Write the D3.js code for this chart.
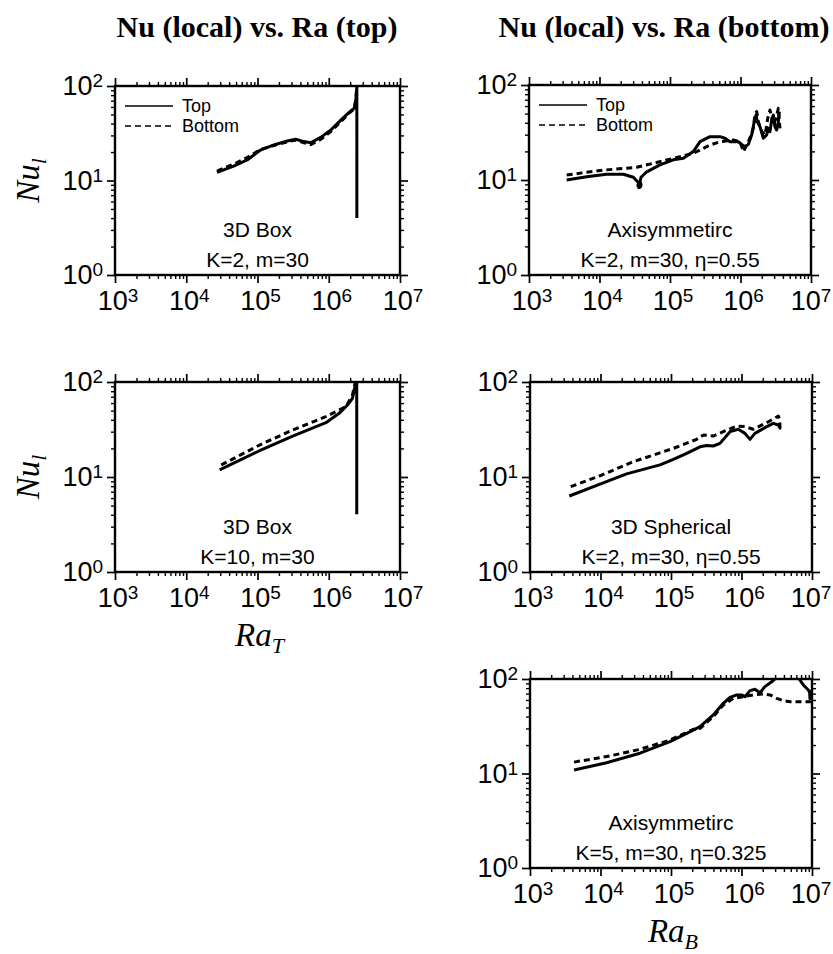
<!DOCTYPE html>
<html><head><meta charset="utf-8">
<script src="https://cdn.jsdelivr.net/npm/d3@7"></script>
<style>body{margin:0;background:#fff}</style>
</head><body>
<svg id="c" width="833" height="954" xmlns="http://www.w3.org/2000/svg"></svg>
<script>
// ---------- tick / text data ----------
const raDecades = [1e3, 1e4, 1e5, 1e6, 1e7];
const nuDecades = [1, 10, 100];
const titles = ["Nu (local) vs. Ra (top)", "Nu (local) vs. Ra (bottom)"];
const panelNames = ["3D Box", "Axisymmetirc", "3D Box", "3D Spherical", "Axisymmetirc"];
const panelParams = ["K=2, m=30", "K=2, m=30, \u03b7=0.55", "K=10, m=30", "K=2, m=30, \u03b7=0.55", "K=5, m=30, \u03b7=0.325"];
const legendLabels = ["Top", "Bottom"];

// ---------- series data (Ra, Nu_l) ----------
// Panel 1: 3D Box K=2
const p1TopRa = [2.70e4, 4.63e4, 7.16e4, 1.10e5, 1.70e5, 2.62e5, 3.43e5, 4.49e5, 5.57e5, 7.71e5, 1.07e6, 1.48e6, 1.93e6, 2.28e6, 2.40e6, 2.48e6, 2.48e6];
const p1TopNu = [12.2, 14.2, 16.5, 21.0, 23.8, 26.2, 27.3, 25.8, 25.1, 28.6, 34.2, 43.6, 52.6, 58.1, 71.1, 100, 4.0];
const p1BotRa = [2.70e4, 4.63e4, 7.16e4, 1.10e5, 1.70e5, 2.62e5, 3.43e5, 4.49e5, 5.57e5, 7.71e5, 1.07e6, 1.48e6, 1.93e6, 2.28e6, 2.40e6, 2.48e6];
const p1BotNu = [12.6, 14.9, 17.5, 21.3, 23.5, 25.6, 26.8, 25.0, 24.0, 27.2, 33.0, 42.0, 51.5, 57.5, 72.0, 100];

// Panel 2: Axisymmetric K=2, eta=0.55
const p2TopRa = [3.42e3, 6.58e3, 1.26e4, 2.18e4, 3.02e4, 3.55e4, 3.51e4, 3.63e4, 3.80e4, 3.89e4, 3.76e4, 3.89e4, 4.67e4, 7.21e4, 1.11e5, 1.55e5, 2.14e5, 2.67e5, 3.69e5, 5.12e5, 6.03e5, 7.10e5, 9.31e5, 1.04e6, 1.16e6, 1.29e6, 1.44e6, 1.55e6, 1.66e6, 1.73e6, 1.89e6, 2.11e6, 2.35e6, 2.48e6, 2.62e6, 2.77e6, 2.92e6, 3.08e6, 3.26e6, 3.44e6, 3.55e6];
const p2TopNu = [10.0, 10.8, 11.5, 11.5, 10.7, 9.4, 8.7, 8.3, 8.4, 8.9, 9.7, 10.7, 12.2, 14.4, 16.3, 16.9, 19.9, 25.3, 28.6, 28.6, 27.5, 25.3, 25.3, 23.7, 22.4, 23.7, 29.8, 39.5, 48.3, 41.1, 36.4, 27.5, 29.8, 35.0, 32.3, 42.9, 48.3, 36.4, 33.6, 41.1, 52.4];
const p2BotRa = [3.42e3, 1.13e4, 3.37e4, 5.79e4, 1.11e5, 2.14e5, 2.67e5, 3.69e5, 5.12e5, 7.91e5, 9.84e5, 1.10e6, 1.22e6, 1.36e6, 1.52e6, 1.61e6, 1.70e6, 1.79e6, 2.00e6, 2.23e6, 2.48e6, 2.62e6, 2.92e6, 3.19e6, 3.44e6, 3.63e6];
const p2BotNu = [11.3, 12.7, 13.6, 15.0, 16.9, 19.1, 20.7, 23.3, 25.3, 26.4, 25.3, 19.9, 23.3, 27.5, 35.0, 50.4, 52.4, 41.1, 32.3, 29.8, 48.3, 54.6, 37.9, 44.6, 56.8, 35.0];

// Panel 3: 3D Box K=10
const p3TopRa = [2.94e4, 1.07e5, 3.12e5, 9.12e5, 1.40e6, 1.83e6, 2.15e6, 2.39e6, 2.47e6, 2.47e6];
const p3TopNu = [11.9, 18.9, 27.0, 37.3, 46.8, 57.3, 67.3, 96.8, 100, 4.05];
const p3BotRa = [3.10e4, 1.07e5, 3.12e5, 9.12e5, 1.74e6, 2.15e6, 2.34e6, 2.45e6];
const p3BotNu = [13.4, 21.7, 31.3, 43.2, 55.0, 72.9, 96.8, 100];

// Panel 4: 3D Spherical K=2, eta=0.55
const p4TopRa = [3.61e3, 9.84e3, 2.35e4, 6.98e4, 1.08e5, 1.67e5, 2.58e5, 3.21e5, 3.98e5, 4.95e5, 6.87e5, 9.02e5, 1.12e6, 1.32e6, 1.55e6, 2.28e6, 2.83e6, 3.33e6, 3.52e6, 3.50e6];
const p4TopNu = [6.31, 8.43, 10.8, 13.4, 15.3, 17.7, 20.8, 21.5, 21.2, 22.6, 30.0, 31.8, 28.8, 24.9, 28.8, 33.9, 36.7, 35.3, 32.7, 37.5];
const p4BotRa = [3.78e3, 9.84e3, 2.92e4, 1.08e5, 2.31e5, 2.88e5, 3.98e5, 5.52e5, 8.55e5, 1.12e6, 1.47e6, 2.28e6, 3.33e6, 3.52e6];
const p4BotNu = [7.91, 10.3, 14.5, 20.0, 24.9, 27.7, 27.0, 30.0, 34.4, 33.9, 31.8, 37.3, 43.9, 39.8];

// Panel 5: Axisymmetric K=5, eta=0.325
const p5TopRa = [4.21e3, 1.22e4, 3.63e4, 9.68e4, 2.07e5, 2.58e5, 3.98e5, 5.52e5, 6.87e5, 8.55e5, 1.00e6, 1.12e6, 1.32e6, 1.55e6, 1.83e6, 2.15e6, 2.68e6, 3.16e6, 4.47e6, 6.40e6, 7.53e6, 8.87e6, 9.57e6, 9.35e6, 9.28e6, 9.70e6, 9.85e6];
const p5TopNu = [10.9, 13.0, 16.4, 21.7, 28.8, 31.3, 41.6, 55.3, 64.0, 67.8, 67.8, 65.0, 75.3, 77.8, 71.6, 83.0, 93.5, 104, 112, 103, 86.5, 76.6, 67.8, 62.0, 70.0, 74.0, 63.0];
const p5BotRa = [4.21e3, 1.22e4, 3.63e4, 9.68e4, 2.07e5, 2.58e5, 3.98e5, 5.52e5, 7.66e5, 1.06e6, 1.47e6, 2.04e6, 2.54e6, 3.16e6, 3.92e6, 4.88e6, 6.76e6, 9.38e6, 9.77e6];
const p5BotNu = [13.2, 15.1, 18.0, 22.6, 29.3, 30.1, 39.9, 53.1, 62.5, 65.0, 67.8, 69.3, 67.8, 62.5, 59.0, 57.5, 57.5, 57.5, 65.0];

const seriesData = [
  [[p1TopRa, p1TopNu], [p1BotRa, p1BotNu]],
  [[p2TopRa, p2TopNu], [p2BotRa, p2BotNu]],
  [[p3TopRa, p3TopNu], [p3BotRa, p3BotNu]],
  [[p4TopRa, p4TopNu], [p4BotRa, p4BotNu]],
  [[p5TopRa, p5TopNu], [p5BotRa, p5BotNu]]
];

// ---------- layout ----------
const W = 833, H = 954;
const frames = [
  {x0: 115, x1: 400, y0: 86,  y1: 275, legend: true,  yLab: true},
  {x0: 529, x1: 811, y0: 85,  y1: 275, legend: true},
  {x0: 115, x1: 400, y0: 382, y1: 572, yLab: true, xLab: "T"},
  {x0: 530, x1: 812, y0: 382, y1: 572},
  {x0: 530, x1: 812, y0: 679, y1: 868, xLab: "B"}
];
const titlePos = [{x: 257, y: 37}, {x: 664, y: 37}];
const SANS = "'Liberation Sans', Arial, Helvetica, sans-serif";
const SERIF = "'Liberation Serif', 'Times New Roman', Times, serif";
const dashes = [null, "6,4"];

const svg = d3.select("#c");
svg.append("rect").attr("width", W).attr("height", H).attr("fill", "#fff");

titles.forEach((t, i) => {
  svg.append("text").attr("x", titlePos[i].x).attr("y", titlePos[i].y)
    .attr("text-anchor", "middle").attr("font-family", SERIF)
    .attr("font-weight", "bold").attr("font-size", 30).text(t);
});

function pow10Label(sel, v) {
  const e = Math.round(Math.log10(v));
  sel.append("tspan").text("10");
  sel.append("tspan").attr("font-size", 19).attr("dy", -8).text(e);
}

frames.forEach((f, i) => {
  const x = d3.scaleLog().domain([1e3, 1e7]).range([f.x0, f.x1]);
  const y = d3.scaleLog().domain([1, 100]).range([f.y1, f.y0]);
  const g = svg.append("g");
  const xMinor = x.ticks().filter(v => !raDecades.some(d => Math.abs(d - v) / d < 1e-9));
  const yMinor = y.ticks().filter(v => !nuDecades.some(d => Math.abs(d - v) / d < 1e-9));

  const axes = [
    [d3.axisBottom(x), `translate(0,${f.y1})`, raDecades, xMinor],
    [d3.axisTop(x), `translate(0,${f.y0})`, raDecades, xMinor],
    [d3.axisLeft(y), `translate(${f.x0},0)`, nuDecades, yMinor],
    [d3.axisRight(y), `translate(${f.x1},0)`, nuDecades, yMinor]
  ];
  axes.forEach(([ax, tr, maj, mnr]) => {
    const a1 = g.append("g").attr("transform", tr)
      .call(ax.tickValues(maj).tickSize(8).tickFormat(""));
    a1.select(".domain").remove();
    a1.selectAll("line").attr("stroke-width", 1.7);
    const a2 = g.append("g").attr("transform", tr)
      .call(ax.tickValues(mnr).tickSize(4).tickFormat(""));
    a2.select(".domain").remove();
    a2.selectAll("line").attr("stroke-width", 1.4);
  });

  // frame
  g.append("rect").attr("x", f.x0).attr("y", f.y0)
    .attr("width", f.x1 - f.x0).attr("height", f.y1 - f.y0)
    .attr("fill", "none").attr("stroke", "#000").attr("stroke-width", 2.4);

  // tick labels
  raDecades.forEach(v => {
    const t = g.append("text").attr("x", Math.min(x(v) + 3, W - 22)).attr("y", f.y1 + 35)
      .attr("text-anchor", "middle").attr("font-family", SANS).attr("font-size", 27);
    pow10Label(t, v);
  });
  nuDecades.forEach(v => {
    const t = g.append("text").attr("x", f.x0 - 12).attr("y", y(v) + 9)
      .attr("text-anchor", "end").attr("font-family", SANS).attr("font-size", 27);
    pow10Label(t, v);
  });

  // clip and series
  const cid = "clip" + i;
  svg.append("clipPath").attr("id", cid).append("rect")
    .attr("x", f.x0).attr("y", f.y0).attr("width", f.x1 - f.x0).attr("height", f.y1 - f.y0);
  const line = d3.line().x(d => x(d[0])).y(d => y(d[1]));
  const sg = g.append("g").attr("clip-path", `url(#${cid})`);
  seriesData[i].forEach(([ra, nu], k) => {
    const pts = ra.map((r, j) => [r, nu[j]]);
    sg.append("path").datum(pts).attr("d", line)
      .attr("fill", "none").attr("stroke", "#000").attr("stroke-width", 3)
      .attr("stroke-linejoin", "round")
      .attr("stroke-dasharray", dashes[k]);
  });

  // annotations
  const cx = (f.x0 + f.x1) / 2;
  g.append("text").attr("x", cx).attr("y", f.y1 - 38).attr("text-anchor", "middle")
    .attr("font-family", SANS).attr("font-size", 21).text(panelNames[i]);
  g.append("text").attr("x", cx).attr("y", f.y1 - 8).attr("text-anchor", "middle")
    .attr("font-family", SANS).attr("font-size", 21).text(panelParams[i]);

  // legend
  if (f.legend) {
    legendLabels.forEach((lab, k) => {
      const ly = f.y0 + 20 + k * 20;
      g.append("line").attr("x1", f.x0 + 10).attr("x2", f.x0 + 58)
        .attr("y1", ly).attr("y2", ly).attr("stroke", "#000").attr("stroke-width", 1.6)
        .attr("stroke-dasharray", dashes[k]);
      g.append("text").attr("x", f.x0 + 67).attr("y", ly + 6)
        .attr("font-family", SANS).attr("font-size", 18).text(lab);
    });
  }

  // axis titles
  if (f.yLab) {
    const t = svg.append("text")
      .attr("transform", `translate(39,${(f.y0 + f.y1) / 2}) rotate(-90)`)
      .attr("text-anchor", "middle").attr("font-family", SERIF)
      .attr("font-style", "italic").attr("font-size", 33);
    t.append("tspan").text("Nu");
    t.append("tspan").attr("font-size", 22).attr("dy", 7).text("l");
  }
  if (f.xLab) {
    const t = svg.append("text").attr("x", cx + 2).attr("y", f.y1 + 74)
      .attr("text-anchor", "middle").attr("font-family", SERIF)
      .attr("font-style", "italic").attr("font-size", 33);
    t.append("tspan").text("Ra");
    t.append("tspan").attr("font-size", 22).attr("dy", 7).text(f.xLab);
  }
});
</script>
</body></html>
